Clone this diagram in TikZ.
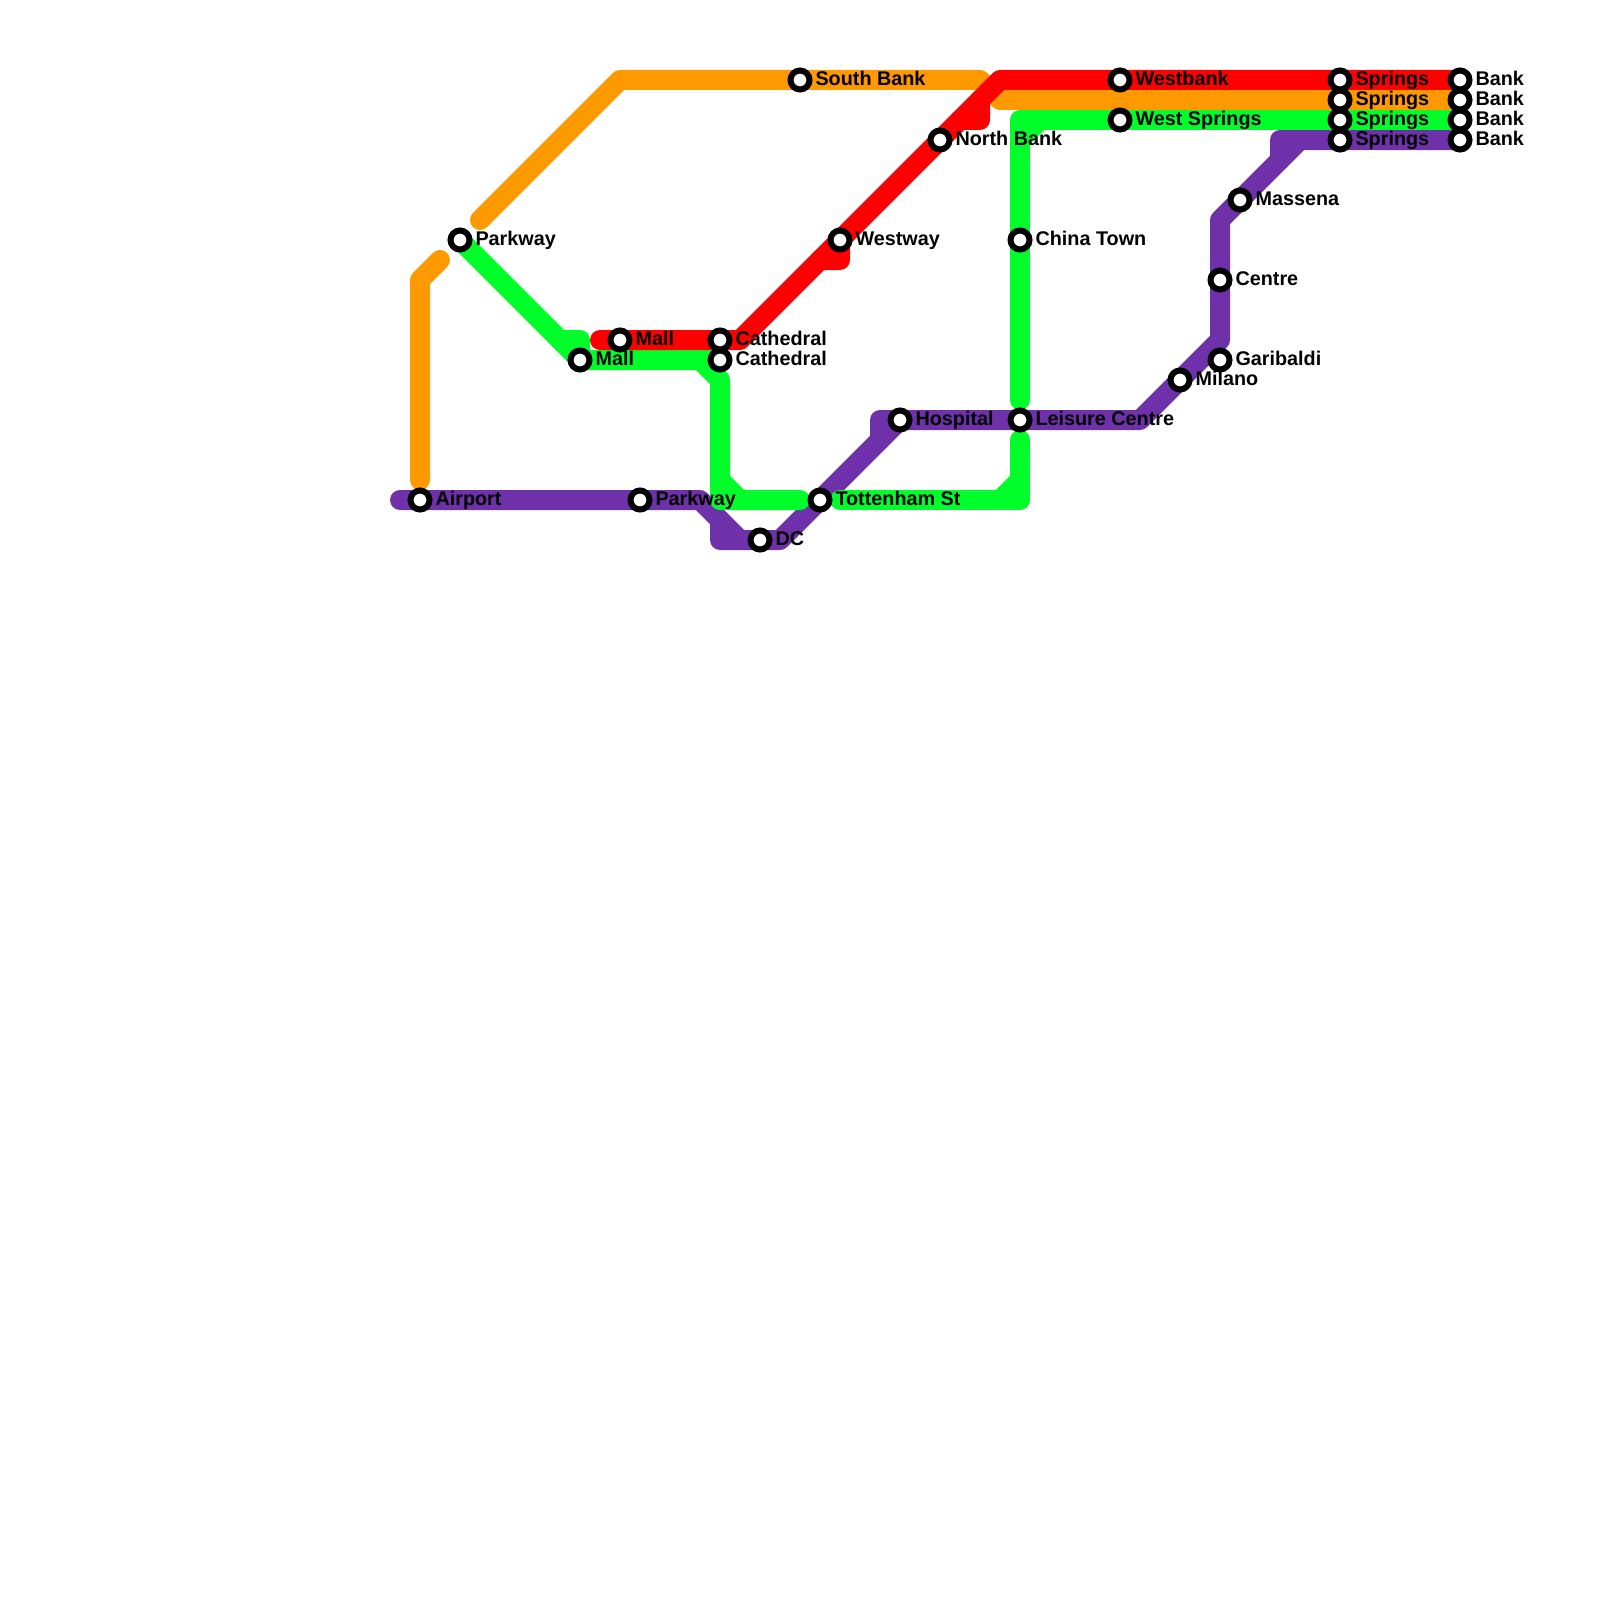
\documentclass[tikz,border=0pt]{standalone}
\usepackage{fontspec}
\setmainfont{Liberation Sans}
\pgfdeclarelayer{bg}
\pgfsetlayers{bg,main}
\definecolor{lnred}{HTML}{FF0000}
\definecolor{lnorange}{HTML}{FF9900}
\definecolor{lngreen}{HTML}{00FF2A}
\definecolor{lnpurple}{HTML}{6E31A9}
\tikzset{
  line/.style={line width=20pt,line join=round,line cap=round},
  stationdot/.style={circle,draw=black,fill=white,line width=6pt,minimum size=19pt,inner sep=0pt,outer sep=0pt},
  lab/.style={anchor=base west,inner sep=0pt,outer sep=0pt,font=\fontsize{19.8}{24}\selectfont\bfseries,text=black}
}
\newcommand{\stat}[4]{\node[stationdot] (#1) at (#2,#3) {};
  \node[lab] (#1-lab) at ([xshift=15.5pt,yshift=-5.3pt]#1.center) {#4};}
\newcommand{\bend}[3]{\coordinate (#1) at (#2,#3);}
\begin{document}
\begin{tikzpicture}[x=1pt,y=-1pt]
\useasboundingbox (0,0) rectangle (1600,1600);
% stations
\stat{airport}{420}{500}{Airport}
\stat{parkwayg}{460}{240}{Parkway}
\stat{mallg}{580}{360}{Mall}
\stat{mallr}{620}{340}{Mall}
\stat{parkwayp}{640}{500}{Parkway}
\stat{cathr}{720}{340}{Cathedral}
\stat{cathg}{720}{360}{Cathedral}
\stat{dc}{760}{540}{DC}
\stat{southbank}{800}{80}{South Bank}
\stat{tottenham}{820}{500}{Tottenham St}
\stat{westway}{840}{240}{Westway}
\stat{hospital}{900}{420}{Hospital}
\stat{northbank}{940}{140}{North Bank}
\stat{chinatown}{1020}{240}{China Town}
\stat{leisure}{1020}{420}{Leisure Centre}
\stat{westbank}{1120}{80}{Westbank}
\stat{westsprings}{1120}{120}{West Springs}
\stat{milano}{1180}{380}{Milano}
\stat{garibaldi}{1220}{360}{Garibaldi}
\stat{centre}{1220}{280}{Centre}
\stat{massena}{1240}{200}{Massena}
\stat{springsr}{1340}{80}{Springs}
\stat{springso}{1340}{100}{Springs}
\stat{springsg}{1340}{120}{Springs}
\stat{springsp}{1340}{140}{Springs}
\stat{bankr}{1460}{80}{Bank}
\stat{banko}{1460}{100}{Bank}
\stat{bankg}{1460}{120}{Bank}
\stat{bankp}{1460}{140}{Bank}
% bends and free ends
\bend{o1}{420}{480}\bend{o2}{420}{280}\bend{o3}{440}{260}
\bend{o4}{480}{220}\bend{o5}{620}{80}\bend{o6}{980}{80}\bend{o7}{1000}{100}
\bend{r1}{600}{340}\bend{r2}{740}{340}\bend{r3}{820}{260}\bend{r4}{840}{260}
\bend{r5}{960}{120}\bend{r6}{980}{120}\bend{r7}{980}{100}\bend{r8}{1000}{80}
\bend{g1}{560}{340}\bend{g2}{580}{340}\bend{g3}{700}{360}\bend{g4}{720}{380}
\bend{g5}{720}{480}\bend{g6}{720}{500}\bend{g7}{740}{500}\bend{g8}{800}{500}
\bend{g9}{840}{500}\bend{g10}{1000}{500}\bend{g11}{1020}{500}\bend{g12}{1020}{480}\bend{g13}{1020}{440}
\bend{g14}{1020}{400}\bend{g15}{1020}{140}\bend{g16}{1020}{120}\bend{g17}{1040}{120}
\bend{p1}{400}{500}\bend{p2}{700}{500}\bend{p3}{720}{520}\bend{p4}{720}{540}\bend{p5}{740}{540}\bend{p6}{780}{540}
\bend{p7}{880}{440}\bend{p8}{880}{420}\bend{p9}{1140}{420}\bend{p10}{1220}{340}\bend{p11}{1220}{220}
\bend{p12}{1280}{160}\bend{p13}{1280}{140}\bend{p14}{1300}{140}
\begin{pgfonlayer}{bg}
\fill[white] (0,0) rectangle (1600,1600);
% orange
\draw[line,lnorange] (o1) -- (o2) -- (o3);
\draw[line,lnorange] (o4) -- (o5) -- (southbank.center) -- (o6) -- (o7) -- (banko.center);
% purple
\draw[line,lnpurple] (p1) -- (parkwayp.center) -- (p2) -- (p3) -- (p4) -- (p6) -- (p7) -- (p8) -- (p9) -- (p10) -- (p11) -- (p12) -- (p13) -- (bankp.center);
\draw[line,lnpurple] (p3) -- (p5);
\draw[line,lnpurple] (p7) -- (hospital.center);
\draw[line,lnpurple] (p12) -- (p14);
% green
\draw[line,lngreen] (parkwayg.center) -- (g1) -- (g2) -- (mallg.center) -- (cathg.center) -- (g3) -- (g4) -- (g6) -- (g8);
\draw[line,lngreen] (g1) -- (mallg.center);
\draw[line,lngreen] (g5) -- (g7);
\draw[line,lngreen] (g9) -- (g11) -- (g13);
\draw[line,lngreen] (g10) -- (g12);
\draw[line,lngreen] (g14) -- (g16) -- (bankg.center);
\draw[line,lngreen] (g15) -- (g17);
% red
\draw[line,lnred] (r1) -- (r2) -- (r3) -- (r4) -- (westway.center) -- (r5) -- (r6) -- (r7) -- (r8) -- (bankr.center);
\draw[line,lnred] (r3) -- (westway.center);
\draw[line,lnred] (r5) -- (r7);
\end{pgfonlayer}
\end{tikzpicture}
\end{document}
